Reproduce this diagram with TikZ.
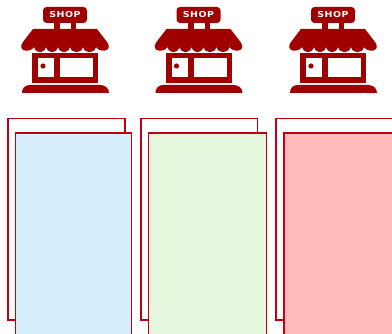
\documentclass[tikz,border=0pt]{standalone}
\usepackage{fontspec}
\setmainfont{DejaVu Sans}
\newfontfamily\shopfont[LetterSpace=6]{DejaVu Sans}
\definecolor{shopred}{HTML}{A00000}
\definecolor{lineRed}{HTML}{C00010}
\definecolor{fillA}{HTML}{D6EEFC}
\definecolor{fillB}{HTML}{E5F6DC}
\definecolor{fillC}{HTML}{FFBBBB}
\tikzset{
  backbox/.style={draw=lineRed,line width=1.4pt,fill=white},
  frontbox/.style={draw=lineRed,line width=1.4pt},
  shop/.pic={
    \fill[shopred,rounded corners=3.5pt] (43,7) rectangle (87,23);
    \node[text=white,font=\shopfont\bfseries\fontsize{8.2}{9}\selectfont,inner sep=0pt,xscale=1.15] (-label) at (65,15) {SHOP};
    \fill[shopred] (54,23) rectangle (60,30);
    \fill[shopred] (71,23) rectangle (76,30);
    \fill[shopred] (33,29) -- (97,29) -- (107,42)
      .. controls (110,46) and (109,50) .. (105,50.5)
      .. controls (101,51) and (98,50) .. (96,47)
      .. controls (94,54) and (85,54) .. (83,47)
      .. controls (81,54) and (72,54) .. (70,47)
      .. controls (68,54) and (60,54) .. (58,47)
      .. controls (56,54) and (48,54) .. (46,47)
      .. controls (44,54) and (36,54) .. (34,47)
      .. controls (32,50) and (29,51) .. (25,50.5)
      .. controls (21,50) and (20,46) .. (23,42) -- cycle;
    \fill[shopred] (32,53) rectangle (98,83);
    \fill[white] (38,58) rectangle (54,77);
    \fill[white] (60,58) rectangle (93,77);
    \fill[shopred] (43,66) circle (2.6);
    \fill[shopred] (22,93) .. controls (22,88) and (25,85) .. (30,85)
      -- (100,85) .. controls (105,85) and (109,88) .. (109,93) -- cycle;
  }
}
\begin{document}
\begin{tikzpicture}[x=1pt,y=-1pt]
\useasboundingbox (0,0) rectangle (392,334);
\clip (0,0) rectangle (392,334);
\pic (s1) at (0,0) {shop};
\pic (s2) at (133.5,0) {shop};
\pic (s3) at (268,0) {shop};
\draw[backbox] (8,118.5) rectangle (125,320);
\draw[frontbox,fill=fillA] (15.5,133) rectangle (131.5,345);
\draw[backbox] (141,118.5) rectangle (257.5,320);
\draw[frontbox,fill=fillB] (148.5,133) rectangle (266.5,345);
\draw[backbox] (276,118.5) rectangle (400,320);
\draw[frontbox,fill=fillC] (284,133) rectangle (400,345);
\end{tikzpicture}
\end{document}
